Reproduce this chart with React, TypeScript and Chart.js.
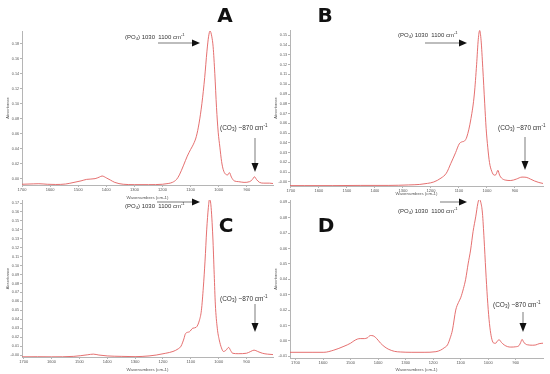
import React, { useEffect, useRef } from 'react';
import { Chart, registerables } from 'chart.js';
Chart.register(...registerables);

// ---------------- data ----------------
const X_TICKS = [1700, 1600, 1500, 1400, 1300, 1200, 1100, 1000, 900];

const A_WN = [1700, 1660, 1640, 1610, 1580, 1545, 1515, 1490, 1470, 1440, 1425, 1415, 1400, 1385, 1370, 1340, 1300, 1250, 1200, 1180, 1165, 1150, 1140, 1125, 1112, 1100, 1090, 1080, 1070, 1060, 1050, 1042, 1036, 1031, 1025, 1020, 1014, 1008, 1002, 996, 990, 984, 976, 968, 962, 955, 945, 930, 910, 890, 880, 873, 866, 855, 840, 820, 807];
const A_ABS = [-0.0075, -0.007, -0.0068, -0.0075, -0.0078, -0.0072, -0.005, -0.003, -0.001, 0.0, 0.002, 0.0035, 0.001, -0.002, -0.005, -0.0075, -0.008, -0.008, -0.0075, -0.0065, -0.005, -0.001, 0.005, 0.018, 0.03, 0.039, 0.046, 0.056, 0.074, 0.1, 0.135, 0.17, 0.19, 0.197, 0.19, 0.176, 0.14, 0.095, 0.062, 0.042, 0.023, 0.012, 0.006, 0.005, 0.008, 0.002, -0.003, -0.004, -0.005, -0.004, -0.001, 0.0025, -0.001, -0.005, -0.006, -0.006, -0.0065];

const B_WN = [1703, 1650, 1550, 1450, 1350, 1280, 1240, 1212, 1190, 1164, 1145, 1129, 1112, 1099, 1090, 1080, 1072, 1057, 1045, 1037, 1031, 1026, 1021, 1015, 1008, 1003, 997, 991, 983, 974, 968, 961, 955, 948, 935, 915, 895, 875, 860, 845, 830, 815, 800];
const B_ABS = [-0.0037, -0.0037, -0.0037, -0.0035, -0.0035, -0.003, -0.0025, -0.0014, 0.0, 0.004, 0.009, 0.019, 0.03, 0.039, 0.041, 0.042, 0.046, 0.065, 0.09, 0.12, 0.146, 0.155, 0.145, 0.117, 0.08, 0.055, 0.035, 0.02, 0.011, 0.007, 0.0075, 0.012, 0.007, 0.004, 0.002, 0.0015, 0.003, 0.005, 0.0048, 0.003, 0.001, -0.0005, -0.0015];

const C_WN = [1706, 1650, 1600, 1520, 1470, 1450, 1430, 1400, 1350, 1300, 1250, 1224, 1190, 1164, 1145, 1135, 1125, 1119, 1105, 1093, 1081, 1069, 1062, 1055, 1049, 1043, 1037, 1033, 1028, 1021, 1016, 1012, 1005, 998, 990, 983, 975, 964, 957, 950, 930, 900, 885, 873, 860, 843, 825, 805];
const C_ABS = [-0.002, -0.0019, -0.002, -0.0015, 0.0003, 0.001, 0.0, -0.001, -0.0015, -0.0018, -0.001, 0.0, 0.002, 0.004, 0.007, 0.01, 0.018, 0.024, 0.026, 0.03, 0.031, 0.039, 0.05, 0.076, 0.105, 0.14, 0.165, 0.174, 0.168, 0.132, 0.09, 0.057, 0.03, 0.017, 0.008, 0.004, 0.005, 0.0085, 0.005, 0.002, 0.0015, 0.002, 0.004, 0.0055, 0.004, 0.002, 0.001, 0.0005];

const D_WN = [1720, 1680, 1640, 1597, 1561, 1524, 1500, 1488, 1475, 1465, 1450, 1439, 1428, 1418, 1405, 1391, 1375, 1361, 1340, 1318, 1280, 1233, 1190, 1173, 1160, 1148, 1138, 1130, 1118, 1108, 1100, 1090, 1082, 1073, 1064, 1055, 1045, 1038, 1033, 1027, 1021, 1015, 1009, 1003, 997, 991, 985, 978, 973, 965, 960, 952, 942, 930, 918, 900, 888, 882, 877, 872, 865, 858, 840, 827, 815, 801];
const D_ABS = [-0.0074, -0.0074, -0.0074, -0.0074, -0.006, -0.0035, -0.0015, 0.0, 0.0012, 0.0015, 0.0015, 0.002, 0.0035, 0.0033, 0.0015, -0.0015, -0.004, -0.0055, -0.0068, -0.0072, -0.0074, -0.0074, -0.007, -0.006, -0.0045, -0.0026, 0.002, 0.007, 0.02, 0.025, 0.028, 0.034, 0.04, 0.05, 0.059, 0.071, 0.081, 0.089, 0.092, 0.09, 0.083, 0.066, 0.046, 0.028, 0.014, 0.005, 0.0, -0.0015, -0.0015, 0.0003, 0.0007, -0.001, -0.0026, -0.0037, -0.004, -0.0038, -0.003, -0.001, 0.001, -0.0005, -0.002, -0.0025, -0.0028, -0.0026, -0.0018, -0.0015];

const A_Y_TICKS = [0, 0.02, 0.04, 0.06, 0.08, 0.1, 0.12, 0.14, 0.16, 0.18];
const B_Y_TICKS = [0, 0.01, 0.02, 0.03, 0.04, 0.05, 0.06, 0.07, 0.08, 0.09, 0.1, 0.11, 0.12, 0.13, 0.14, 0.15];
const C_Y_TICKS = [0, 0.01, 0.02, 0.03, 0.04, 0.05, 0.06, 0.07, 0.08, 0.09, 0.1, 0.11, 0.12, 0.13, 0.14, 0.15, 0.16, 0.17];
const D_Y_TICKS = [-0.01, 0, 0.01, 0.02, 0.03, 0.04, 0.05, 0.06, 0.07, 0.08, 0.09];

const PANEL_LETTERS = ['A', 'B', 'C', 'D'];
const X_TITLE = 'Wavenumbers (cm-1)';
const Y_TITLE = 'Absorbance';

// ---------------- styling / layout ----------------
const FONT = '"Liberation Sans", Arial, Helvetica, sans-serif';
const LETTER_FONT = '"DejaVu Sans", "Liberation Sans", Arial, sans-serif';
const LINE_COLOR = 'rgb(226, 96, 96)';
const AXIS_COLOR = '#b5b5b5';
const TEXT_COLOR = '#555';

type Panel = {
  letter: string;
  wn: number[];
  abs: number[];
  yTicks: number[];
  zeroLabel: string;
  xMin: number; xMax: number; yMin: number; yMax: number;
  left: number; top: number; width: number; height: number;
  padding: { left: number; right: number; top: number; bottom: number };
  xH: number;
  letterPos: [number, number];
  po4Text: [number, number]; po4Arrow: [number, number, number, number];
  co3Text: [number, number]; co3Arrow: [number, number, number, number];
};

const PANELS: Panel[] = [
  {
    letter: PANEL_LETTERS[0], wn: A_WN, abs: A_ABS, yTicks: A_Y_TICKS, zeroLabel: '0.00',
    xMin: 807, xMax: 1700, yMin: -0.0085, yMax: 0.197,
    left: 0, top: 0, width: 275, height: 200,
    padding: { left: 0, right: 2, top: 31, bottom: 0 }, xH: 15,
    letterPos: [225, 17],
    po4Text: [125, 37], po4Arrow: [158, 43, 200, 43],
    co3Text: [220, 128], co3Arrow: [255, 138, 255, 172],
  },
  {
    letter: PANEL_LETTERS[1], wn: B_WN, abs: B_ABS, yTicks: B_Y_TICKS, zeroLabel: '-0.00',
    xMin: 800, xMax: 1703, yMin: -0.0041, yMax: 0.1555,
    left: 268, top: 0, width: 282, height: 196,
    padding: { left: 0, right: 7, top: 30, bottom: 0 }, xH: 10,
    letterPos: [325, 17],
    po4Text: [398, 35], po4Arrow: [425, 43, 467, 43],
    co3Text: [498, 128], co3Arrow: [525, 137, 525, 170],
  },
  {
    letter: PANEL_LETTERS[2], wn: C_WN, abs: C_ABS, yTicks: C_Y_TICKS, zeroLabel: '-0.00',
    xMin: 805, xMax: 1706, yMin: -0.0022, yMax: 0.1734,
    left: 0, top: 187, width: 275, height: 187,
    padding: { left: 0, right: 2, top: 13, bottom: 2 }, xH: 15,
    letterPos: [226, 227],
    po4Text: [125, 206], po4Arrow: [157, 202, 200, 202],
    co3Text: [220, 299], co3Arrow: [255, 304, 255, 332],
  },
  {
    letter: PANEL_LETTERS[3], wn: D_WN, abs: D_ABS, yTicks: D_Y_TICKS, zeroLabel: '0.00',
    xMin: 801, xMax: 1720, yMin: -0.0111, yMax: 0.0915,
    left: 268, top: 187, width: 282, height: 187,
    padding: { left: 0, right: 7, top: 13, bottom: 2 }, xH: 14,
    letterPos: [326, 227],
    po4Text: [398, 211], po4Arrow: [440, 202, 467, 202],
    co3Text: [493, 305], co3Arrow: [523, 312, 523, 332],
  },
];

type Seg = { t: string; s: number };
function drawRich(ctx: CanvasRenderingContext2D, segs: Seg[], x: number, y: number, size: number) {
  let cx = x;
  ctx.textBaseline = 'middle';
  ctx.textAlign = 'left';
  for (const seg of segs) {
    const sz = seg.s === 0 ? size : size * 0.7;
    ctx.font = `${sz}px ${FONT}`;
    const dy = seg.s === 0 ? 0 : seg.s < 0 ? size * 0.3 : -size * 0.35;
    ctx.fillText(seg.t, cx, y + dy);
    cx += ctx.measureText(seg.t).width;
  }
}

function drawArrow(ctx: CanvasRenderingContext2D, x1: number, y1: number, x2: number, y2: number, len: number, w: number) {
  const ang = Math.atan2(y2 - y1, x2 - x1);
  const bx = x2 - Math.cos(ang) * len;
  const by = y2 - Math.sin(ang) * len;
  ctx.strokeStyle = '#444';
  ctx.lineWidth = 0.7;
  ctx.beginPath();
  ctx.moveTo(x1, y1);
  ctx.lineTo(bx, by);
  ctx.stroke();
  ctx.fillStyle = '#111';
  ctx.beginPath();
  ctx.moveTo(x2, y2);
  ctx.lineTo(bx - Math.sin(ang) * w / 2, by + Math.cos(ang) * w / 2);
  ctx.lineTo(bx + Math.sin(ang) * w / 2, by - Math.cos(ang) * w / 2);
  ctx.closePath();
  ctx.fill();
}

function annotationPlugin(p: Panel) {
  return {
    id: 'annot' + p.letter,
    afterDraw(chart: any) {
      const ctx: CanvasRenderingContext2D = chart.ctx;
      const ox = p.left, oy = p.top;
      ctx.save();
      // panel letter
      ctx.fillStyle = '#111';
      ctx.font = `bold 20px ${LETTER_FONT}`;
      ctx.textAlign = 'center';
      ctx.textBaseline = 'middle';
      ctx.fillText(p.letter, p.letterPos[0] - ox, p.letterPos[1] - oy);
      // PO4
      ctx.fillStyle = '#333';
      drawRich(ctx, [{ t: '(PO', s: 0 }, { t: '4', s: -1 }, { t: ') 1030  1100 cm', s: 0 }, { t: '-1', s: 1 }], p.po4Text[0] - ox, p.po4Text[1] - oy, 6);
      drawArrow(ctx, p.po4Arrow[0] - ox, p.po4Arrow[1] - oy, p.po4Arrow[2] - ox, p.po4Arrow[3] - oy, 8, 7);
      // CO3
      ctx.fillStyle = '#333';
      drawRich(ctx, [{ t: '(CO', s: 0 }, { t: '3', s: -1 }, { t: ') ~870 cm', s: 0 }, { t: '-1', s: 1 }], p.co3Text[0] - ox, p.co3Text[1] - oy, 6.5);
      drawArrow(ctx, p.co3Arrow[0] - ox, p.co3Arrow[1] - oy, p.co3Arrow[2] - ox, p.co3Arrow[3] - oy, 9, 7);
      ctx.restore();
    },
  };
}

function makeConfig(p: Panel): any {
  return {
    type: 'line',
    data: {
      datasets: [{
        data: p.wn.map((x, i) => ({ x, y: p.abs[i] })),
        borderColor: LINE_COLOR,
        borderWidth: 0.9,
        pointRadius: 0,
        fill: false,
        cubicInterpolationMode: 'monotone',
      }],
    },
    options: {
      animation: false,
      responsive: false,
      maintainAspectRatio: false,
      devicePixelRatio: 1,
      layout: { padding: p.padding },
      plugins: { legend: { display: false }, tooltip: { enabled: false } },
      scales: {
        x: {
          type: 'linear', reverse: true, min: p.xMin, max: p.xMax,
          afterBuildTicks: (s: any) => { s.ticks = X_TICKS.map((v) => ({ value: v })); },
          afterFit: (s: any) => { s.height = p.xH; },
          ticks: { font: { size: 4, family: FONT }, color: TEXT_COLOR, padding: 0, maxRotation: 0, autoSkip: false, callback: (v: number) => String(v) },
          grid: { drawOnChartArea: false, drawTicks: true, tickLength: 2, color: AXIS_COLOR },
          border: { color: AXIS_COLOR },
          title: { display: true, text: X_TITLE, font: { size: 4.4, family: FONT }, color: TEXT_COLOR, padding: { top: 0, bottom: 0 } },
        },
        y: {
          type: 'linear', min: p.yMin, max: p.yMax,
          afterBuildTicks: (s: any) => { s.ticks = p.yTicks.map((v) => ({ value: v })); },
          afterFit: (s: any) => { s.width = 22; },
          ticks: { font: { size: 3.7, family: FONT }, color: TEXT_COLOR, padding: 1, autoSkip: false, callback: (v: number) => (Math.abs(v) < 1e-9 ? p.zeroLabel : v.toFixed(2)) },
          grid: { drawOnChartArea: false, drawTicks: true, tickLength: 2, color: AXIS_COLOR },
          border: { color: AXIS_COLOR },
          title: { display: true, text: Y_TITLE, font: { size: 4, family: FONT }, color: TEXT_COLOR, padding: { top: 5, bottom: 0 } },
        },
      },
    },
    plugins: [annotationPlugin(p)],
  };
}

function PanelChart({ p }: { p: Panel }) {
  const ref = useRef<HTMLCanvasElement | null>(null);
  useEffect(() => {
    if (!ref.current) return;
    const chart = new Chart(ref.current, makeConfig(p));
    return () => chart.destroy();
  }, [p]);
  return (
    <canvas
      ref={ref}
      width={p.width}
      height={p.height}
      style={{ position: 'absolute', left: p.left, top: p.top, width: p.width, height: p.height }}
    />
  );
}

export default function App() {
  useEffect(() => {
    document.body.style.margin = '0';
  }, []);
  return (
    <div style={{ position: 'fixed', left: 0, top: 0, width: 550, height: 374, background: '#fff', overflow: 'hidden' }}>
      {PANELS.map((p) => <PanelChart key={p.letter} p={p} />)}
    </div>
  );
}
